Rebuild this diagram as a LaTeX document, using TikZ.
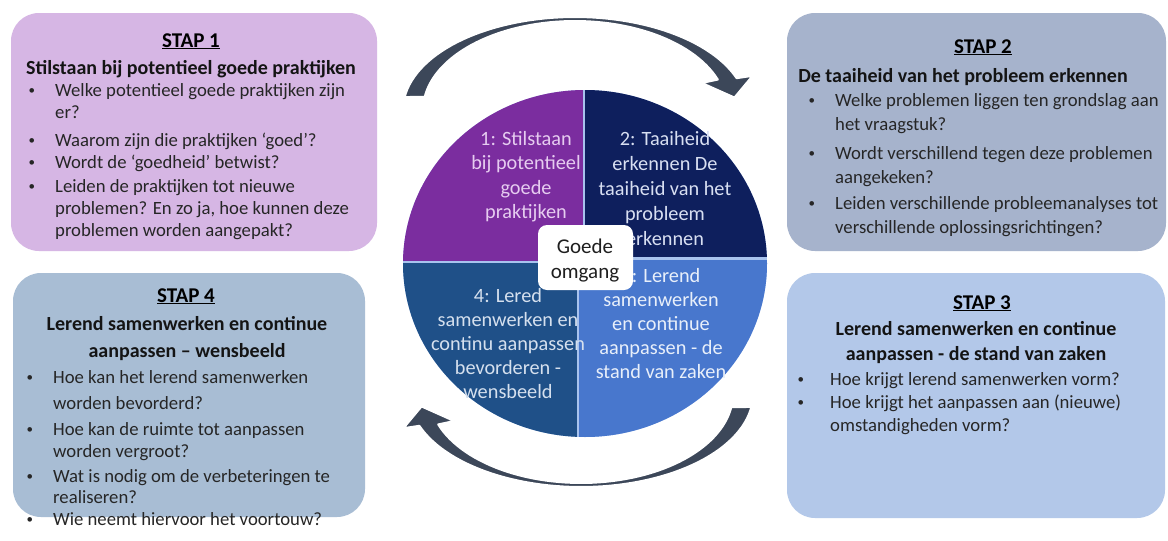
\documentclass[tikz,border=0pt]{standalone}
\usepackage{fontspec}
\setmainfont{Carlito}
\definecolor{p1}{HTML}{D6B6E4}
\definecolor{p2}{HTML}{A6B3CC}
\definecolor{p3}{HTML}{B3C8E9}
\definecolor{p4}{HTML}{A8BDD4}
\definecolor{q1}{HTML}{7B2D9F}
\definecolor{q2}{HTML}{0E1F5D}
\definecolor{q3}{HTML}{4877CD}
\definecolor{q4}{HTML}{1F5088}
\definecolor{qline}{HTML}{A8C3EE}
\definecolor{arr}{HTML}{3C4759}
\definecolor{txt}{HTML}{262626}
\definecolor{q1t}{HTML}{E6CCF0}
\definecolor{q2t}{HTML}{D8DFF2}
\definecolor{q3t}{HTML}{E8EFFA}
\definecolor{q4t}{HTML}{D5E0EE}
\newcommand\bul[1]{\llap{\raisebox{1.2pt}{\fontsize{13}{13}\selectfont\textbullet}\hspace{#1pt}}}
\tikzset{
  stapbox/.style={rounded corners=28pt},
  staphead/.style={anchor=base, inner sep=0pt, text=black, font=\bfseries\fontsize{21}{24}\selectfont},
  staptitle/.style={anchor=base, inner sep=0pt, align=center, text=black!92, font=\bfseries\fontsize{20}{26}\selectfont},
  item/.style={anchor=base west, inner sep=0pt, align=left, text=txt, font=\fontsize{18.7}{23}\selectfont},
  qtext/.style={anchor=base, inner sep=0pt, align=center, font=\fontsize{20.3}{24.6}\selectfont},
  cyclearrow/.style={fill=arr, draw=white, line width=2pt, line join=round}
}
\begin{document}
\begin{tikzpicture}[x=1pt,y=-1pt]
\useasboundingbox (0,0) rectangle (1168,541);
\fill[white] (0,0) rectangle (1168,541);

% ---------- STAP boxes ----------
\fill[p1, stapbox] (11,13) rectangle (377,251);
\fill[p2, stapbox] (787,13) rectangle (1166,251);
\fill[p3, stapbox] (787,273) rectangle (1165,518);
\fill[p4, stapbox] (13,273) rectangle (365,517);

% (multi-line nodes are anchored at the baseline of their last line)
% STAP 1
\node[staphead] (h1) at (191,47) {\underline{STAP 1}};
\node[staptitle] (t1) at (191,74) {Stilstaan bij potentieel goede praktijken};
\node[item, font=\fontsize{18.7}{22}\selectfont] (s1a) at (55,118) {\bul{20}Welke potentieel goede praktijken zijn\\er?};
\node[item] (s1b) at (55,146) {\bul{20}Waarom zijn die praktijken ‘goed’?};
\node[item] (s1c) at (55,168) {\bul{20}Wordt de ‘goedheid’ betwist?};
\node[item, font=\fontsize{18.7}{22}\selectfont] (s1d) at (55,236) {\bul{20}Leiden de praktijken tot nieuwe\\problemen? En zo ja, hoe kunnen deze\\problemen worden aangepakt?};

% STAP 2
\node[staphead] (h2) at (983,53) {\underline{STAP 2}};
\node[staptitle] (t2) at (963,82) {De taaiheid van het probleem erkennen};
\node[item, font=\fontsize{18.7}{24}\selectfont] (s2a) at (835,130) {\bul{20}Welke problemen liggen ten grondslag aan\\het vraagstuk?};
\node[item, font=\fontsize{18.7}{24}\selectfont] (s2b) at (835,183) {\bul{20}Wordt verschillend tegen deze problemen\\aangekeken?};
\node[item, font=\fontsize{18.7}{24}\selectfont] (s2c) at (835,233) {\bul{20}Leiden verschillende probleemanalyses tot\\verschillende oplossingsrichtingen?};

% STAP 3
\node[staphead] (h3) at (982,309) {\underline{STAP 3}};
\node[staptitle, font=\bfseries\fontsize{20}{25}\selectfont] (t3) at (976,360) {Lerend samenwerken en continue\\aanpassen - de stand van zaken};
\node[item] (s3a) at (830,385) {\bul{26}Hoe krijgt lerend samenwerken vorm?};
\node[item] (s3b) at (830,431) {\bul{26}Hoe krijgt het aanpassen aan (nieuwe)\\omstandigheden vorm?};

% STAP 4
\node[staphead] (h4) at (186,302) {\underline{STAP 4}};
\node[staptitle, font=\bfseries\fontsize{20}{27}\selectfont] (t4) at (187,357) {Lerend samenwerken en continue\\aanpassen – wensbeeld};
\node[item, font=\fontsize{18.7}{26}\selectfont] (s4a) at (53,409) {\bul{20}Hoe kan het lerend samenwerken\\worden bevorderd?};
\node[item, font=\fontsize{18.7}{22}\selectfont] (s4b) at (53,457) {\bul{20}Hoe kan de ruimte tot aanpassen\\worden vergroot?};
\node[item, font=\fontsize{18.7}{21}\selectfont] (s4c) at (53,503) {\bul{20}Wat is nodig om de verbeteringen te\\realiseren?};
\node[item] (s4d) at (53,525) {\bul{20}Wie neemt hiervoor het voortouw?};

% ---------- pie ----------
\fill[qline] (585,263.5) ellipse [x radius=182, y radius=173.5];
\begin{scope}
  \clip (585,263.5) ellipse [x radius=182, y radius=173.5];
  \fill[q1] (390,80) rectangle (583.3,260.6);
  \fill[q2] (585.2,80) rectangle (780,257.4);
  \fill[q3] (579.2,259.6) rectangle (780,450);
  \fill[q4] (390,262.6) rectangle (577.4,450);
\end{scope}
\node[qtext, text=q1t] (l1) at (526,218.8) {1: Stilstaan\\bij potentieel\\goede\\praktijken};
\node[qtext, text=q2t, font=\fontsize{20.3}{25}\selectfont] (l2) at (665,245) {2: Taaiheid\\erkennen De\\taaiheid van het\\probleem\\erkennen};
\node[qtext, text=q3t, font=\fontsize{20.3}{24}\selectfont] (l3) at (661,378) {3: Lerend\\samenwerken\\en continue\\aanpassen - de\\stand van zaken};
\node[qtext, text=q4t, font=\fontsize{20.3}{24}\selectfont] (l4) at (508,398) {4: Lered\\samenwerken en\\continu aanpassen\\bevorderen -\\wensbeeld};

% ---------- cycle arrows ----------
\foreach \r in {0,180}{
\begin{scope}[rotate around={\r:(578,252)}]
\filldraw[cyclearrow]
  plot[domain=172:20,samples=60] ({575+172*cos(\x)},{110-93*sin(\x)})
  -- ({575+189*cos(20)},{110-100*sin(20)})
  -- ({575+161*cos(8)},{110-89.5*sin(8)})
  -- ({575+135*cos(20)},{110-79*sin(20)})
  -- plot[domain=20:171.5,samples=60] ({575+152*cos(\x)},{110-89*sin(\x)})
  -- cycle;
\end{scope}}

% ---------- centre ----------
\node[fill=white, rounded corners=9pt, minimum width=95pt, minimum height=65pt, inner sep=0pt] (go) at (585.5,257.5) {};
\node[qtext, text=black!88, font=\fontsize{21}{25}\selectfont] (gotext) at (585,278) {Goede\\omgang};
\end{tikzpicture}
\end{document}
